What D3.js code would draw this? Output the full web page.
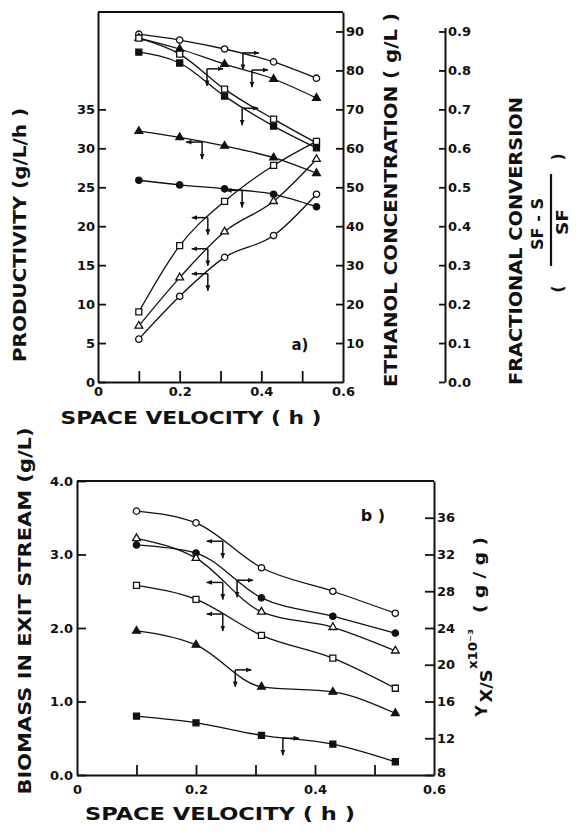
<!DOCTYPE html>
<html>
<head>
<meta charset="utf-8">
<script src="https://cdn.jsdelivr.net/npm/d3@7"></script>
<style>
  body { margin: 0; background: #fff; }
  svg text { font-family: "DejaVu Sans", sans-serif; fill: #111; }
  .tick text { font-size: 13px; font-weight: bold; }
  .axis .domain { stroke: #111; stroke-width: 2; }
  .axis .tick line { stroke: #111; stroke-width: 1.8; }
  .title { font-weight: bold; }
  .curve { fill: none; stroke: #111; stroke-width: 1.3; }
  .arrow line { stroke: #111; stroke-width: 1.5; }
</style>
</head>
<body>
<div id="chart"></div>
<script>
// space velocity (1/h), same runs in both panels
const velocity = [0.1, 0.2, 0.31, 0.43, 0.535];

// panel a) ethanol concentration, g/L (right axis)
const ethanolOpenCircle = [89.3, 87.8, 85.5, 82.2, 78.0];
const ethanolTriangle = [88.3, 85.5, 81.6, 77.8, 72.9];
const ethanolOpenSquare = [88.3, 84.2, 75.2, 67.5, 61.4];
const ethanolSquare = [84.7, 81.9, 73.4, 65.7, 60.1];

// panel a) productivity, g/L/h (left axis)
const prodTriangle = [32.2, 31.4, 30.3, 28.8, 26.8];
const prodCircle = [25.9, 25.3, 24.8, 24.1, 22.5];
const prodOpenSquare = [9.0, 17.5, 23.2, 27.8, 30.9];
const prodOpenTriangle = [7.2, 13.4, 19.3, 23.2, 28.6];
const prodOpenCircle = [5.5, 11.0, 16.0, 18.8, 24.1];

// panel b) biomass in exit stream, g/L
const bioOpenCircle = [3.59, 3.43, 2.82, 2.50, 2.20];
const bioCircle = [3.13, 3.02, 2.41, 2.16, 1.93];
const bioOpenTriangle = [3.22, 2.95, 2.22, 2.01, 1.69];
const bioOpenSquare = [2.58, 2.39, 1.90, 1.59, 1.18];
const bioTriangle = [1.96, 1.77, 1.20, 1.13, 0.84];
const bioSquare = [0.80, 0.71, 0.54, 0.42, 0.18];

// tick labels
const prodTicks = [0, 5, 10, 15, 20, 25, 30, 35];
const ethanolTicks = [10, 20, 30, 40, 50, 60, 70, 80, 90];
const convTicks = [0, 0.1, 0.2, 0.3, 0.4, 0.5, 0.6, 0.7, 0.8, 0.9];
const velocityMinor = [0.1, 0.2, 0.3, 0.4, 0.5];
const velocityLabels = [0, 0.2, 0.4, 0.6];
const bioTicks = [0, 1, 2, 3, 4];
const yieldTicks = [8, 12, 16, 20, 24, 28, 32, 36];

// axis-pointer arrows: [velocity, value, axis, direction]
const arrowsA = [
  [0.355, 84.5, "eth", 1], [0.377, 80.1, "eth", 1], [0.267, 80.4, "eth", 1], [0.353, 70.3, "eth", 1],
  [0.255, 30.8, "prod", -1], [0.353, 24.6, "prod", -1], [0.269, 21.1, "prod", -1],
  [0.269, 17.1, "prod", -1], [0.269, 13.9, "prod", -1]
];
const arrowsB = [
  [0.245, 3.18, "bio", -1], [0.269, 2.65, "bio", 1], [0.245, 2.62, "bio", -1],
  [0.245, 2.19, "bio", -1], [0.266, 1.43, "bio", 1], [0.346, 0.50, "bio", 1]
];

const svg = d3.select("#chart").append("svg").attr("width", 582).attr("height", 834);

svg.append("defs").append("marker")
  .attr("id", "head").attr("viewBox", "0 0 10 10").attr("refX", 9).attr("refY", 5)
  .attr("markerWidth", 6).attr("markerHeight", 6).attr("markerUnits", "userSpaceOnUse")
  .attr("orient", "auto")
  .append("path").attr("d", "M0,1L10,5L0,9Z").attr("fill", "#111");

// scales
const xA = d3.scaleLinear().domain([0, 0.6]).range([98, 343]);
const yProd = d3.scaleLinear().domain([0, 47.5]).range([382, 12]);
const yEth = d3.scaleLinear().domain([0, 95]).range([382, 12]);
const yConv = d3.scaleLinear().domain([0, 0.91]).range([yEth(0), yEth(91)]);

const xB = d3.scaleLinear().domain([0, 0.6]).range([77, 434]);
const yBio = d3.scaleLinear().domain([0, 4]).range([775, 481]);
const yYield = d3.scaleLinear().domain([8, 40]).range([775, 481]);

const shapes = {circle: d3.symbolCircle, triangle: d3.symbolTriangle, square: d3.symbolSquare};
const sizes = {circle: 32, triangle: 26, square: 36};

function drawSeries(g, x, list) {
  const line = d3.line().curve(d3.curveMonotoneX);
  list.forEach(s => {
    g.append("path").attr("class", "curve")
      .attr("d", line(velocity.map((v, i) => [x(v), s.y(s.values[i])])));
  });
  list.forEach(s => {
    g.selectAll(null).data(s.values).join("path")
      .attr("transform", (d, i) => `translate(${x(velocity[i])},${s.y(d)})`)
      .attr("d", d3.symbol().type(shapes[s.mark]).size(sizes[s.mark]))
      .attr("fill", s.open ? "#fff" : "#111")
      .attr("stroke", "#111").attr("stroke-width", 1.3);
  });
}

function drawArrows(g, x, list, scales) {
  const ga = g.append("g").attr("class", "arrow");
  list.forEach(([v, val, ax, dir]) => {
    const cx = x(v), cy = scales[ax](val);
    ga.append("line").attr("x1", cx).attr("y1", cy).attr("x2", cx + dir * 16).attr("y2", cy)
      .attr("marker-end", "url(#head)");
    ga.append("line").attr("x1", cx).attr("y1", cy).attr("x2", cx).attr("y2", cy + 17)
      .attr("marker-end", "url(#head)");
  });
}

function title(txt, cx, cy, size, len, rotate) {
  svg.append("text").attr("class", "title")
    .attr("transform", `translate(${cx},${cy})` + (rotate ? " rotate(-90)" : ""))
    .attr("text-anchor", "middle").attr("dominant-baseline", "central")
    .attr("font-size", size)
    .attr("textLength", len).attr("lengthAdjust", "spacingAndGlyphs")
    .text(txt);
}

const fmt = d => d === 0 ? "0" : d3.format(".1f")(d);

// ---------- panel a ----------
const gA = svg.append("g");

gA.append("g").attr("class", "axis").attr("transform", `translate(${xA(0)},0)`)
  .call(d3.axisLeft(yProd).tickValues(prodTicks).tickSizeInner(-8).tickSizeOuter(0).tickPadding(3));
gA.append("g").attr("class", "axis").attr("transform", `translate(${xA(0.6)},0)`)
  .call(d3.axisRight(yEth).tickValues(ethanolTicks).tickSizeInner(-7).tickSizeOuter(0).tickPadding(3));
gA.append("g").attr("class", "axis").attr("transform", `translate(445,0)`)
  .call(d3.axisRight(yConv).tickValues(convTicks).tickFormat(d3.format(".1f"))
    .tickSizeInner(-6).tickSizeOuter(0).tickPadding(3));
gA.append("g").attr("class", "axis").attr("transform", `translate(0,${yProd(0)})`)
  .call(d3.axisBottom(xA).tickValues(velocityMinor).tickFormat("").tickSizeInner(-11).tickSizeOuter(0));
gA.append("g").attr("class", "axis").attr("transform", `translate(0,${yProd(0)})`)
  .call(d3.axisBottom(xA).tickValues(velocityLabels).tickFormat(fmt).tickSize(0).tickPadding(5))
  .call(g => g.select(".domain").remove());
gA.append("line").attr("x1", xA(0)).attr("x2", xA(0.6)).attr("y1", yProd(47.5)).attr("y2", yProd(47.5))
  .attr("stroke", "#111").attr("stroke-width", 2);

drawSeries(gA, xA, [
  {values: ethanolOpenCircle, y: yEth, mark: "circle", open: true},
  {values: ethanolTriangle, y: yEth, mark: "triangle", open: false},
  {values: ethanolOpenSquare, y: yEth, mark: "square", open: true},
  {values: ethanolSquare, y: yEth, mark: "square", open: false},
  {values: prodTriangle, y: yProd, mark: "triangle", open: false},
  {values: prodCircle, y: yProd, mark: "circle", open: false},
  {values: prodOpenSquare, y: yProd, mark: "square", open: true},
  {values: prodOpenTriangle, y: yProd, mark: "triangle", open: true},
  {values: prodOpenCircle, y: yProd, mark: "circle", open: true}
]);
drawArrows(gA, xA, arrowsA, {eth: yEth, prod: yProd});

svg.append("text").attr("x", 300).attr("y", 345).attr("text-anchor", "middle")
  .attr("dominant-baseline", "central").attr("font-size", 15).attr("font-weight", "bold").text("a)");

title("PRODUCTIVITY (g/L/h )", 20, 235, 17, 254, true);
title("ETHANOL CONCENTRATION ( g/L )", 391, 200, 17, 374, true);
title("FRACTIONAL CONVERSION", 516, 241, 17, 288, true);
title("SF - S", 538, 224, 15, 52, true);
title("SF", 563, 222, 15, 26, true);
title("(", 557, 289, 16, 7, true);
title(")", 557, 157, 16, 7, true);
svg.append("line").attr("x1", 551).attr("x2", 551).attr("y1", 174).attr("y2", 266)
  .attr("stroke", "#111").attr("stroke-width", 2.2);
title("SPACE VELOCITY ( h )", 191, 418, 17, 261, false);

// ---------- panel b ----------
const gB = svg.append("g");

gB.append("g").attr("class", "axis").attr("transform", `translate(${xB(0)},0)`)
  .call(d3.axisLeft(yBio).tickValues(bioTicks).tickFormat(d3.format(".1f"))
    .tickSizeInner(-9).tickSizeOuter(0).tickPadding(4));
gB.append("g").attr("class", "axis").attr("transform", `translate(${xB(0.6)},0)`)
  .call(d3.axisRight(yYield).tickValues(yieldTicks).tickSizeInner(-9).tickSizeOuter(0).tickPadding(3))
  .call(g => g.selectAll(".tick text").filter(d => d === 8).attr("dy", "0.1em"));
gB.append("g").attr("class", "axis").attr("transform", `translate(0,${yBio(0)})`)
  .call(d3.axisBottom(xB).tickValues(velocityMinor).tickFormat("").tickSizeInner(-10).tickSizeOuter(0));
gB.append("g").attr("class", "axis").attr("transform", `translate(0,${yBio(0)})`)
  .call(d3.axisBottom(xB).tickValues(velocityLabels).tickFormat(fmt).tickSize(0).tickPadding(10))
  .call(g => g.select(".domain").remove());
gB.append("line").attr("x1", xB(0)).attr("x2", xB(0.6)).attr("y1", yBio(4)).attr("y2", yBio(4))
  .attr("stroke", "#111").attr("stroke-width", 2);

drawSeries(gB, xB, [
  {values: bioOpenCircle, y: yBio, mark: "circle", open: true},
  {values: bioCircle, y: yBio, mark: "circle", open: false},
  {values: bioOpenTriangle, y: yBio, mark: "triangle", open: true},
  {values: bioOpenSquare, y: yBio, mark: "square", open: true},
  {values: bioTriangle, y: yBio, mark: "triangle", open: false},
  {values: bioSquare, y: yBio, mark: "square", open: false}
]);
drawArrows(gB, xB, arrowsB, {bio: yBio});

svg.append("text").attr("x", 373).attr("y", 515).attr("text-anchor", "middle")
  .attr("dominant-baseline", "central").attr("font-size", 16).attr("font-weight", "bold").text("b )");

title("BIOMASS IN EXIT STREAM (g/L)", 25, 611, 17, 367, true);
title("SPACE VELOCITY ( h )", 220, 814, 17, 270, false);
title("Y", 481, 711, 16, 11, true);
title("X/S", 487, 686, 15, 33, true);
title("x10\u207B\u00B3", 473, 649, 12, 40, true);
title("( g / g )", 480, 575, 15, 76, true);
</script>
</body>
</html>
